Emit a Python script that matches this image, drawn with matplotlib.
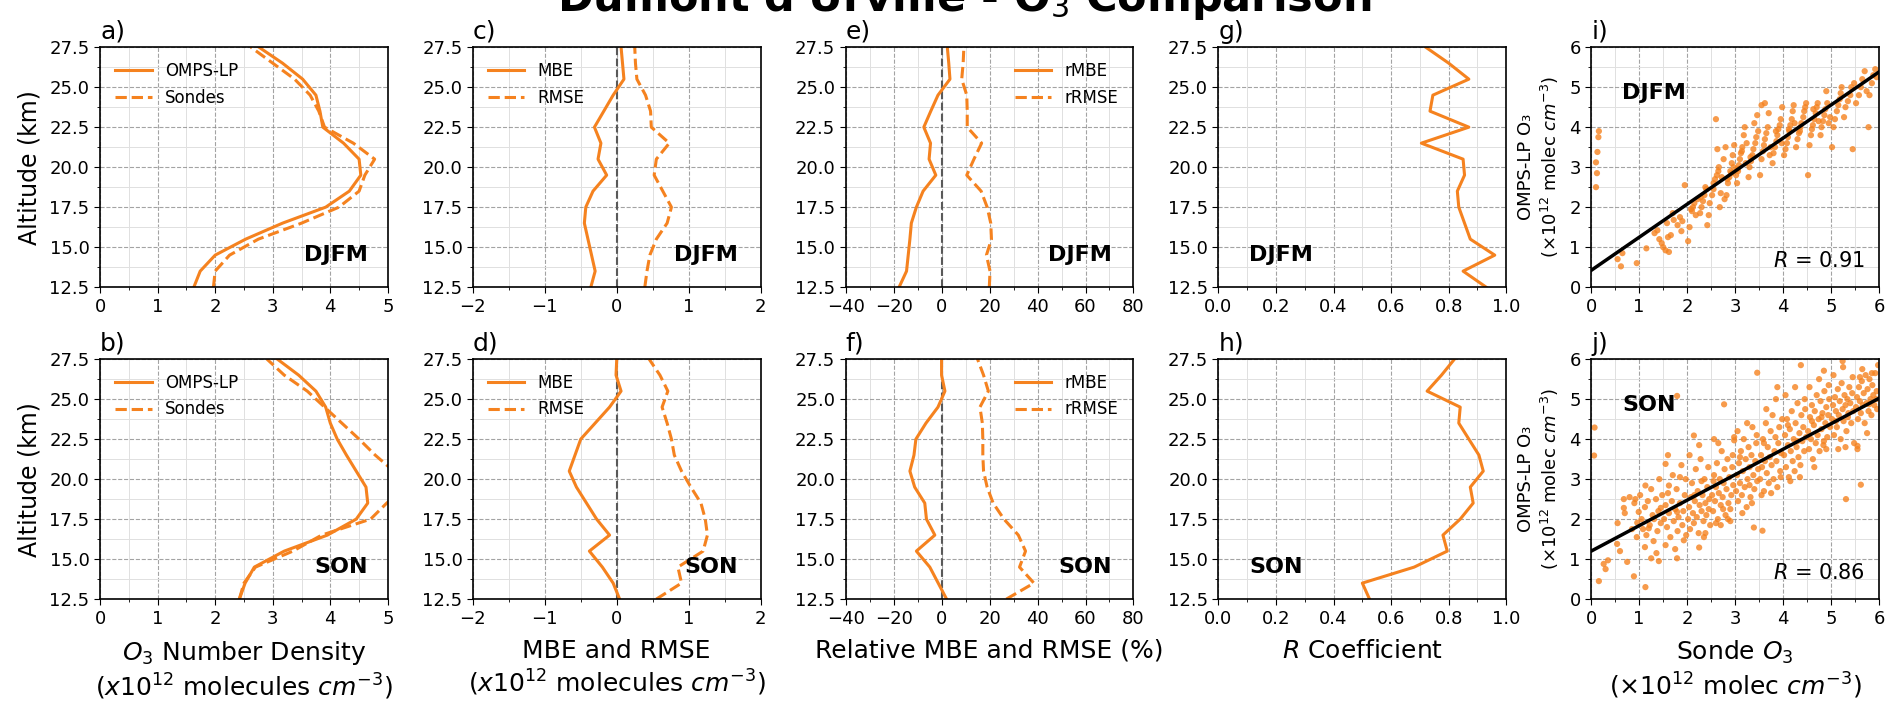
import matplotlib
matplotlib.use('Agg')
import matplotlib.pyplot as plt
from matplotlib.ticker import MultipleLocator, FormatStrFormatter
import numpy as np

plt.rcParams['font.family'] = ['DejaVu Sans']

# altitude levels (km), bottom to top
alt = [12.5, 13.5, 14.5, 15.5, 16.5, 17.5, 18.5, 19.5,
       20.5, 21.5, 22.5, 23.5, 24.5, 25.5, 26.5, 27.5]

# number density profiles (x10^12 molecules cm^-3)
omps_djfm = [1.63, 1.74, 2.00, 2.53, 3.17, 3.92, 4.33, 4.53,
             4.50, 4.23, 3.87, 3.82, 3.75, 3.52, 3.17, 2.76]
sonde_djfm = [1.97, 2.00, 2.25, 2.75, 3.50, 4.15, 4.50, 4.60,
              4.77, 4.40, 3.90, 3.80, 3.65, 3.38, 3.00, 2.62]
omps_son = [2.42, 2.52, 2.68, 3.20, 3.95, 4.45, 4.65, 4.62,
            4.45, 4.28, 4.12, 4.00, 3.92, 3.75, 3.45, 3.08]
sonde_son = [2.42, 2.50, 2.70, 3.35, 3.85, 4.70, 4.98, 5.30,
             5.10, 4.78, 4.50, 4.20, 3.90, 3.60, 3.20, 2.90]

# MBE / RMSE (x10^12 molecules cm^-3)
mbe_djfm = [-0.36, -0.30, -0.35, -0.40, -0.45, -0.43, -0.33, -0.14,
            -0.26, -0.22, -0.31, -0.18, -0.05, 0.10, 0.08, 0.06]
rmse_djfm = [0.39, 0.42, 0.46, 0.55, 0.70, 0.76, 0.64, 0.52,
             0.55, 0.73, 0.48, 0.47, 0.40, 0.28, 0.26, 0.25]
mbe_son = [0.04, -0.05, -0.20, -0.38, -0.10, -0.28, -0.42, -0.56,
           -0.66, -0.58, -0.50, -0.30, -0.10, 0.06, -0.01, 0.00]
rmse_son = [0.55, 0.90, 0.85, 1.20, 1.26, 1.23, 1.17, 1.03,
            0.90, 0.80, 0.76, 0.70, 0.63, 0.71, 0.60, 0.45]

# relative MBE / RMSE (%)
rmbe_djfm = [-17.7, -14.6, -13.9, -13.2, -12.6, -10.5, -7.7, -2.4,
             -5.2, -4.6, -7.4, -4.5, -1.5, 3.5, 3.0, 2.4]
rrmse_djfm = [19.9, 20.2, 18.7, 20.8, 20.5, 19.0, 16.5, 10.5,
              13.5, 16.7, 10.7, 10.7, 10.5, 8.4, 9.0, 9.3]
rmbe_son = [2.1, -1.4, -4.9, -10.5, -2.8, -6.3, -7.0, -11.2,
            -13.2, -11.5, -10.7, -6.5, -1.5, 1.4, 0.0, 0.0]
rrmse_son = [27.0, 38.5, 32.5, 35.0, 32.0, 26.0, 21.5, 19.0,
             17.5, 17.2, 17.2, 17.0, 16.0, 19.5, 17.5, 15.0]

# correlation coefficient
r_djfm = [0.93, 0.85, 0.96, 0.875, 0.855, 0.835, 0.83, 0.855,
          0.85, 0.705, 0.87, 0.735, 0.745, 0.87, 0.80, 0.72]
r_son = [0.525, 0.50, 0.68, 0.795, 0.78, 0.84, 0.885, 0.875,
         0.92, 0.905, 0.87, 0.835, 0.84, 0.725, 0.775, 0.82]

# scatter points (sonde, OMPS-LP), x10^12 molec cm^-3
djfm_pts = [
    (0.10, 2.50), (0.12, 2.85), (0.10, 3.12), (0.13, 3.38), (0.15, 3.75), (0.16, 3.90),
    (0.55, 0.70), (0.62, 0.52), (0.65, 0.85), (0.95, 0.60), (1.15, 0.97),
    (1.32, 1.35), (1.38, 1.42), (1.42, 1.20), (1.47, 1.10), (1.50, 1.00),
    (1.55, 0.92), (1.62, 0.88), (1.60, 1.25), (1.66, 1.30), (1.58, 1.60), (1.70, 1.85), (1.72, 1.68),
    (1.80, 1.55), (1.85, 1.75), (1.90, 1.65), (1.95, 2.55), (1.88, 1.40),
    (2.02, 1.15), (2.05, 1.50), (2.08, 1.95), (2.12, 2.00), (2.15, 2.10), (2.18, 1.80), (2.22, 2.20), (2.10, 1.90),
    (2.27, 1.85), (2.30, 2.00), (2.33, 2.15), (2.36, 2.30), (2.40, 2.45), (2.42, 1.55), (2.45, 1.80),
    (2.47, 2.10), (2.38, 2.50), (2.28, 2.25),
    (2.52, 2.30), (2.55, 2.45), (2.58, 2.70), (2.62, 2.80), (2.65, 2.90), (2.68, 2.00), (2.70, 2.35),
    (2.72, 2.75), (2.60, 4.20), (2.63, 3.45), (2.66, 3.00), (2.55, 2.60),
    (2.78, 2.20), (2.82, 2.30), (2.85, 2.60), (2.88, 2.75), (2.90, 2.90), (2.93, 3.10), (2.95, 3.30),
    (2.80, 3.50), (2.97, 3.00), (2.84, 2.70), (2.92, 2.85), (2.98, 3.55), (2.76, 3.20),
    (3.02, 2.80), (3.05, 2.95), (3.08, 3.05), (3.10, 3.20), (3.12, 3.35), (3.15, 3.50), (3.18, 3.80),
    (3.20, 4.00), (3.04, 2.60), (3.22, 3.10), (3.14, 3.40), (3.24, 3.60), (3.06, 2.90),
    (3.28, 2.75), (3.30, 3.00), (3.33, 3.15), (3.36, 3.30), (3.38, 3.45), (3.42, 3.60), (3.44, 3.75),
    (3.40, 4.10), (3.46, 4.30), (3.48, 3.90), (3.32, 3.25),
    (3.52, 2.80), (3.55, 3.20), (3.58, 3.40), (3.60, 3.55), (3.62, 3.70), (3.65, 3.85), (3.68, 4.00),
    (3.55, 4.55), (3.62, 4.60), (3.70, 4.35), (3.72, 3.30), (3.74, 3.50),
    (3.78, 3.10), (3.80, 3.35), (3.83, 3.50), (3.86, 3.65), (3.88, 3.80), (3.90, 3.95), (3.93, 4.05),
    (3.95, 4.20), (3.98, 4.50), (3.85, 3.90), (3.97, 3.60),
    (4.02, 3.30), (4.05, 3.45), (4.08, 3.60), (4.10, 3.75), (4.13, 3.90), (4.15, 4.05), (4.18, 4.20),
    (4.20, 4.40), (4.22, 4.55), (4.12, 3.95), (4.24, 4.10),
    (4.27, 3.50), (4.30, 3.70), (4.33, 3.85), (4.36, 4.00), (4.38, 4.10), (4.42, 4.25), (4.44, 4.40),
    (4.46, 4.50), (4.48, 4.60), (4.35, 3.90),
    (4.52, 2.80), (4.55, 3.55), (4.58, 3.80), (4.60, 3.95), (4.62, 4.05), (4.65, 4.20), (4.68, 4.35),
    (4.70, 4.50), (4.72, 4.60), (4.63, 4.45), (4.74, 4.15),
    (4.78, 3.80), (4.80, 4.00), (4.83, 4.15), (4.86, 4.30), (4.88, 4.45), (4.92, 4.60), (4.90, 4.90),
    (4.95, 4.10), (4.98, 4.25),
    (5.02, 3.50), (5.05, 4.00), (5.08, 4.20), (5.12, 4.40), (5.15, 4.55), (5.18, 4.70), (5.20, 4.85), (5.22, 5.00),
    (5.27, 4.25), (5.30, 4.50), (5.35, 4.65), (5.40, 4.80), (5.42, 5.00), (5.45, 3.45), (5.48, 5.10),
    (5.52, 4.60), (5.58, 4.80), (5.62, 5.00), (5.65, 5.20), (5.70, 5.40), (5.74, 4.90),
    (5.78, 4.00), (5.80, 4.80), (5.85, 5.10), (5.88, 5.30), (5.92, 5.45), (5.95, 5.25),
]
son_pts = [
    (0.07, 4.29), (0.06, 3.59), (0.16, 0.45), (0.30, 0.75), (0.35, 0.97), (0.26, 0.88), (0.54, 1.38),
    (0.68, 2.28), (0.68, 2.50), (0.75, 0.93), (0.89, 0.57), (0.92, 2.50), (0.96, 1.91), (0.99, 2.18),
    (1.13, 0.30), (1.13, 2.84), (1.25, 1.02), (1.20, 1.77), (1.31, 2.00), (1.45, 2.28), (1.41, 0.95),
    (1.55, 3.38), (1.79, 5.08), (1.62, 2.84), (1.79, 2.18), (1.79, 1.02), (1.93, 1.47), (2.14, 4.09),
    (2.25, 1.29), (2.38, 1.65), (2.56, 4.00), (2.77, 4.87), (2.98, 3.97), (3.39, 1.79), (3.57, 1.71),
    (3.46, 5.66), (3.88, 5.30), (4.37, 5.85), (4.85, 5.71), (5.31, 2.50), (5.62, 2.86), (5.24, 5.95),
    (5.79, 4.87), (5.55, 3.83),
    (0.55, 1.90), (0.70, 2.15), (0.80, 2.55), (0.85, 1.75), (0.90, 2.40), (0.95, 1.55), (0.60, 1.20),
    (1.02, 2.60), (1.05, 2.00), (1.08, 1.75), (1.12, 2.30), (1.15, 1.60), (1.18, 2.45), (1.22, 1.85),
    (1.25, 2.75), (1.28, 2.10), (1.30, 1.45), (1.35, 2.50), (1.38, 1.70), (1.40, 2.20), (1.42, 3.00),
    (1.45, 1.90), (1.48, 2.60), (1.12, 1.30), (1.36, 1.15),
    (1.52, 2.00), (1.55, 2.35), (1.58, 1.80), (1.60, 2.65), (1.62, 2.15), (1.65, 1.55), (1.68, 2.45),
    (1.70, 3.10), (1.72, 1.95), (1.75, 2.25), (1.78, 2.75), (1.80, 1.70), (1.82, 2.05), (1.85, 2.40),
    (1.88, 3.35), (1.90, 1.85), (1.92, 2.20), (1.95, 2.60), (1.97, 3.00), (1.98, 1.60), (1.60, 3.60),
    (1.85, 3.05), (1.55, 1.35), (1.75, 1.25),
    (2.02, 2.00), (2.04, 2.30), (2.06, 1.75), (2.08, 2.55), (2.10, 2.90), (2.12, 2.15), (2.14, 1.90),
    (2.16, 2.45), (2.18, 3.25), (2.20, 2.05), (2.22, 2.70), (2.24, 1.65), (2.26, 2.35), (2.28, 3.50),
    (2.30, 2.20), (2.32, 2.60), (2.34, 1.95), (2.36, 3.00), (2.38, 2.40), (2.40, 2.10), (2.42, 2.80),
    (2.44, 3.30), (2.46, 2.50), (2.48, 1.85), (2.05, 3.60), (2.25, 3.85), (2.35, 1.55), (2.45, 2.25),
    (2.15, 2.60), (2.30, 2.95),
    (2.52, 2.60), (2.54, 2.20), (2.56, 3.10), (2.58, 2.45), (2.60, 2.80), (2.62, 3.40), (2.64, 2.00),
    (2.66, 2.65), (2.68, 3.00), (2.70, 2.35), (2.72, 3.70), (2.74, 2.55), (2.76, 2.90), (2.78, 3.25),
    (2.80, 2.10), (2.82, 2.75), (2.84, 3.50), (2.86, 2.40), (2.88, 3.05), (2.90, 1.95), (2.92, 2.60),
    (2.94, 3.30), (2.96, 2.85), (2.98, 4.05), (2.55, 2.95), (2.65, 3.90), (2.75, 2.25), (2.85, 2.00),
    (2.95, 3.60), (2.60, 1.90), (2.70, 1.85), (2.90, 2.25),
    (3.02, 2.70), (3.04, 3.10), (3.06, 2.45), (3.08, 3.40), (3.10, 2.90), (3.12, 3.70), (3.14, 2.60),
    (3.16, 3.20), (3.18, 4.00), (3.20, 2.80), (3.22, 3.50), (3.24, 2.30), (3.26, 3.00), (3.28, 3.80),
    (3.30, 3.30), (3.32, 2.55), (3.34, 3.60), (3.36, 4.30), (3.38, 3.10), (3.40, 2.75), (3.42, 3.45),
    (3.44, 3.90), (3.46, 2.95), (3.48, 3.25), (3.05, 4.20), (3.15, 2.15), (3.25, 4.40), (3.35, 2.40),
    (3.45, 4.10), (3.10, 3.55), (3.30, 2.85),
    (3.52, 3.00), (3.54, 3.60), (3.56, 3.30), (3.58, 4.00), (3.60, 2.70), (3.62, 3.45), (3.64, 4.40),
    (3.66, 3.15), (3.68, 3.80), (3.70, 2.90), (3.72, 3.55), (3.74, 4.20), (3.76, 3.35), (3.78, 4.60),
    (3.80, 3.00), (3.82, 3.70), (3.84, 4.05), (3.86, 3.45), (3.88, 2.80), (3.90, 3.90), (3.92, 4.30),
    (3.94, 3.20), (3.96, 3.65), (3.98, 4.50), (3.55, 2.60), (3.65, 4.75), (3.75, 2.65), (3.85, 5.00),
    (3.95, 3.05), (3.60, 3.90),
    (4.02, 3.60), (4.04, 4.10), (4.06, 3.30), (4.08, 4.50), (4.10, 3.85), (4.12, 3.05), (4.14, 4.25),
    (4.16, 3.70), (4.18, 4.70), (4.20, 3.45), (4.22, 4.00), (4.24, 3.20), (4.26, 4.40), (4.28, 3.80),
    (4.30, 4.90), (4.32, 3.55), (4.34, 4.15), (4.36, 3.35), (4.38, 4.60), (4.40, 3.95), (4.42, 4.30),
    (4.44, 3.70), (4.46, 4.75), (4.48, 4.05), (4.05, 5.10), (4.15, 2.95), (4.25, 5.30), (4.35, 3.05),
    (4.45, 5.00), (4.10, 4.35), (4.30, 3.95),
    (4.52, 4.20), (4.54, 3.75), (4.56, 4.55), (4.58, 4.00), (4.60, 4.85), (4.62, 3.50), (4.64, 4.35),
    (4.66, 4.70), (4.68, 3.90), (4.70, 5.10), (4.72, 4.10), (4.74, 4.50), (4.76, 3.70), (4.78, 4.95),
    (4.80, 4.25), (4.82, 4.65), (4.84, 3.85), (4.86, 5.20), (4.88, 4.40), (4.90, 4.80), (4.92, 4.05),
    (4.94, 4.60), (4.96, 5.00), (4.98, 4.30), (4.55, 5.30), (4.65, 3.30), (4.75, 5.50), (4.85, 3.95),
    (4.95, 5.35), (4.60, 4.45), (4.80, 4.55), (4.90, 3.75),
    (5.02, 4.50), (5.04, 4.85), (5.06, 4.10), (5.08, 5.05), (5.10, 4.70), (5.12, 4.30), (5.14, 5.25),
    (5.16, 4.60), (5.18, 4.95), (5.20, 4.00), (5.22, 5.40), (5.24, 4.75), (5.26, 4.45), (5.28, 5.10),
    (5.30, 4.85), (5.32, 4.20), (5.34, 5.00), (5.36, 4.65), (5.38, 5.30), (5.40, 4.90), (5.42, 4.40),
    (5.44, 5.15), (5.46, 4.70), (5.48, 3.90), (5.05, 5.60), (5.15, 3.75), (5.25, 5.80), (5.35, 4.55),
    (5.45, 5.55), (5.10, 4.45), (5.30, 3.80),
    (5.52, 4.80), (5.54, 5.05), (5.56, 4.50), (5.58, 5.30), (5.60, 4.95), (5.62, 4.65), (5.64, 5.45),
    (5.66, 4.85), (5.68, 5.15), (5.70, 4.40), (5.72, 5.60), (5.74, 4.90), (5.76, 5.25), (5.78, 4.70),
    (5.80, 5.50), (5.82, 5.00), (5.84, 4.60), (5.86, 5.35), (5.88, 5.10), (5.90, 4.85), (5.92, 5.65),
    (5.94, 5.00), (5.96, 4.75), (5.98, 5.85), (5.55, 3.75), (5.65, 5.75), (5.75, 4.15), (5.85, 5.65),
    (5.95, 5.20), (5.60, 5.55),
]
# regression lines: slope, intercept
djfm_fit = [0.827, 0.42]
son_fit = [0.637, 1.20]
djfm_r = 0.91
son_r = 0.86

orange = '#f5821f'
seasons = ['DJFM', 'SON']

fig, axes = plt.subplots(2, 5, figsize=(18.87, 7.04), dpi=100)
fig.subplots_adjust(left=0.053, right=0.9958, bottom=0.149, top=0.933,
                    wspace=0.295, hspace=0.3)


def style_axes(ax, xlim, xmaj, xmin, ylim, ymaj, ymin):
    ax.set_xlim(xlim)
    ax.set_ylim(ylim)
    ax.xaxis.set_major_locator(MultipleLocator(xmaj))
    ax.xaxis.set_minor_locator(MultipleLocator(xmin))
    ax.yaxis.set_major_locator(MultipleLocator(ymaj))
    ax.yaxis.set_minor_locator(MultipleLocator(ymin))
    ax.grid(which='major', ls='--', color='0.55', lw=0.8, alpha=0.8)
    ax.grid(which='minor', ls='-', color='0.88', lw=0.7)
    ax.set_axisbelow(True)
    ax.tick_params(which='major', labelsize=13, length=4)
    ax.tick_params(which='minor', length=2.5)
    for sp in ax.spines.values():
        sp.set_linewidth(1.2)


def season_text(ax, s, x, y, ha):
    ax.text(x, y, s, transform=ax.transAxes, ha=ha, va='center',
            fontsize=16, fontweight='bold')


letters = [['a)', 'c)', 'e)', 'g)', 'i)'], ['b)', 'd)', 'f)', 'h)', 'j)']]

profiles = [
    (omps_djfm, sonde_djfm, mbe_djfm, rmse_djfm, rmbe_djfm, rrmse_djfm, r_djfm, djfm_pts, djfm_fit, djfm_r),
    (omps_son, sonde_son, mbe_son, rmse_son, rmbe_son, rrmse_son, r_son, son_pts, son_fit, son_r),
]

for row, (omps, sonde, mbe, rmse, rmbe, rrmse, rr, pts, fit, rval) in enumerate(profiles):
    s = seasons[row]

    # number density
    ax = axes[row, 0]
    ax.plot(omps, alt, color=orange, lw=2.2, label='OMPS-LP')
    ax.plot(sonde, alt, color=orange, lw=2.2, ls='--', label='Sondes')
    style_axes(ax, (0, 5), 1, 0.5, (12.5, 27.5), 2.5, 1.25)
    ax.legend(loc='upper left', frameon=False, fontsize=12, handlelength=2.2)
    ax.set_ylabel('Altitude (km)', fontsize=17, labelpad=6)
    season_text(ax, s, 0.93, 0.135, 'right')

    # MBE and RMSE
    ax = axes[row, 1]
    ax.axvline(0, color='0.35', ls='--', lw=1.5, zorder=1.5)
    ax.plot(mbe, alt, color=orange, lw=2.2, label='MBE')
    ax.plot(rmse, alt, color=orange, lw=2.2, ls='--', label='RMSE')
    style_axes(ax, (-2, 2), 1, 0.5, (12.5, 27.5), 2.5, 1.25)
    ax.legend(loc='upper left', frameon=False, fontsize=12, handlelength=2.2)
    season_text(ax, s, 0.92, 0.135, 'right')

    # relative MBE and RMSE
    ax = axes[row, 2]
    ax.axvline(0, color='0.35', ls='--', lw=1.5, zorder=1.5)
    ax.plot(rmbe, alt, color=orange, lw=2.2, label='rMBE')
    ax.plot(rrmse, alt, color=orange, lw=2.2, ls='--', label='rRMSE')
    style_axes(ax, (-40, 80), 20, 10, (12.5, 27.5), 2.5, 1.25)
    ax.legend(loc='upper right', frameon=False, fontsize=12, handlelength=2.2)
    season_text(ax, s, 0.924, 0.135, 'right')

    # R coefficient
    ax = axes[row, 3]
    ax.plot(rr, alt, color=orange, lw=2.2)
    style_axes(ax, (0, 1), 0.2, 0.1, (12.5, 27.5), 2.5, 1.25)
    ax.xaxis.set_major_formatter(FormatStrFormatter('%.1f'))
    season_text(ax, s, 0.107, 0.135, 'left')

    for ax in axes[row, :4]:
        ax.yaxis.set_major_formatter(FormatStrFormatter('%.1f'))

    # scatter
    ax = axes[row, 4]
    px, py = np.array(pts).T
    ax.scatter(px, py, s=20, color=orange, alpha=0.8, edgecolors='none', zorder=2)
    xs = np.array([0, 6])
    ax.plot(xs, fit[0] * xs + fit[1], color='k', lw=2.5, zorder=3)
    style_axes(ax, (0, 6), 1, 0.5, (0, 6), 1, 0.5)
    ax.set_ylabel('OMPS-LP O\u2083\n($\\times10^{12}$ molec $cm^{-3}$)', fontsize=13, labelpad=6)
    season_text(ax, s, 0.107, 0.808, 'left')
    ax.text(0.95, 0.11, '$R$ = %.2f' % rval, transform=ax.transAxes,
            ha='right', va='center', fontsize=15)

    for col in range(5):
        axes[row, col].text(0.0, 1.015, letters[row][col], transform=axes[row, col].transAxes,
                            fontsize=18, ha='left', va='bottom')

xlabels = [
    '$O_3$ Number Density\n($x10^{12}$ molecules $cm^{-3}$)',
    'MBE and RMSE\n($x10^{12}$ molecules $cm^{-3}$)',
    'Relative MBE and RMSE (%)',
    '$R$ Coefficient',
    'Sonde $O_3$\n($\\times10^{12}$ molec $cm^{-3}$)',
]
for col, lab in enumerate(xlabels):
    axes[1, col].set_xlabel(lab, fontsize=18, labelpad=8)

# title sits mostly above the top edge, as in the original crop
fig.text(0.511, 0.985, "Dumont d'Urville - O$_3$ Comparison", ha='center', va='baseline',
         fontsize=31, fontweight='bold')

fig.savefig('out.png', dpi=100)
